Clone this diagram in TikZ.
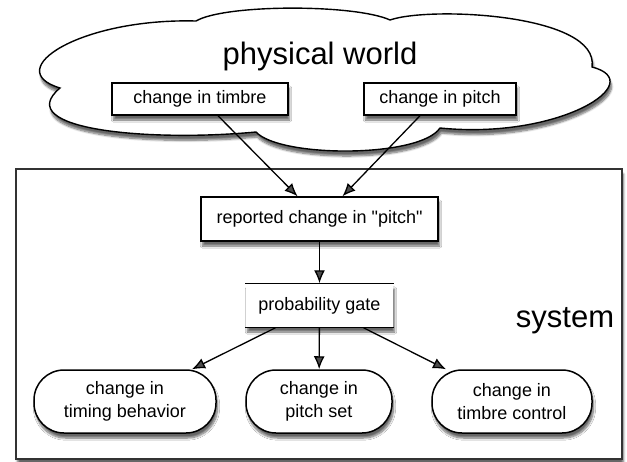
\documentclass[tikz,border=0pt]{standalone}
\usepackage{fontspec}
\setmainfont{Liberation Sans}
\usetikzlibrary{arrows.meta,positioning,calc,shadows.blur}

\begin{document}
\begin{tikzpicture}[
  x=1pt, y=-1pt,
  soft/.style={
    blur shadow={shadow xshift=1.5pt, shadow yshift=-5pt, shadow blur steps=8, shadow opacity=60}
  },
  box/.style={
    draw,
    line width=1.5pt,
    fill=white,
    soft,
    align=center,
    inner sep=0pt,
    minimum height=32pt,
    font=\fontsize{18}{23}\selectfont
  },
  pill/.style={box, rounded corners=30pt, minimum height=63pt},
  arr/.style={-{Latex[length=13pt,width=11pt]}, line width=1.3pt},
  big/.style={font=\fontsize{31}{36}\selectfont, anchor=base}
]
\useasboundingbox (0,0) rectangle (627,461);

% frame and cloud
\draw[line width=1.8pt, draw=black!80, fill=white, soft] (16,169) rectangle (622,459);
\draw[line width=1.4pt, fill=white, soft]
  (60,88) .. controls (0,70) and (80,18) .. (196,21)
  .. controls (225,4) and (355,4) .. (390,20)
  .. controls (430,6) and (600,14) .. (592,67)
  .. controls (650,82) and (560,140) .. (440,128)
  .. controls (420,158) and (280,158) .. (256,132)
  .. controls (150,142) and (10,130) .. (60,88) -- cycle;

\node[big] (world) at (320,64) {physical world};
\node[big] (sys) at (565,327) {system};

\node[box, minimum width=176pt] (tim) at (200,99) {change in timbre};
\node[box, minimum width=152pt] (pit) at (440,99) {change in pitch};
\node[box, minimum width=237pt, minimum height=44pt] (rep) at (319.5,219) {reported change in \textquotedbl pitch\textquotedbl};
\node[box, draw=none, minimum width=147pt, minimum height=43pt] (gate) at (319.5,305.5) {probability gate};
\draw[line width=1.3pt] (gate.north west) -- (gate.north east);
\draw[line width=1pt] (gate.south west) -- (gate.south east);

\node[pill, minimum width=182pt] (tb) at (125,401.5) {change in\\timing behavior};
\node[pill, minimum width=146pt] (ps) at (319,401.5) {change in\\pitch set};
\node[pill, minimum width=160pt] (tc) at (512,401.5) {change in\\timbre control};

\draw[arr] ([xshift=18pt]tim.south) -- ([xshift=-22pt]rep.north);
\draw[arr] ([xshift=-20pt]pit.south) -- ([xshift=23pt]rep.north);
\draw[arr] (rep) -- (gate);
\draw[arr] ([xshift=-44pt]gate.south) -- ([xshift=67pt]tb.north);
\draw[arr] (gate) -- (ps);
\draw[arr] ([xshift=44pt]gate.south) -- ([xshift=-66pt]tc.north);

\end{tikzpicture}
\end{document}
